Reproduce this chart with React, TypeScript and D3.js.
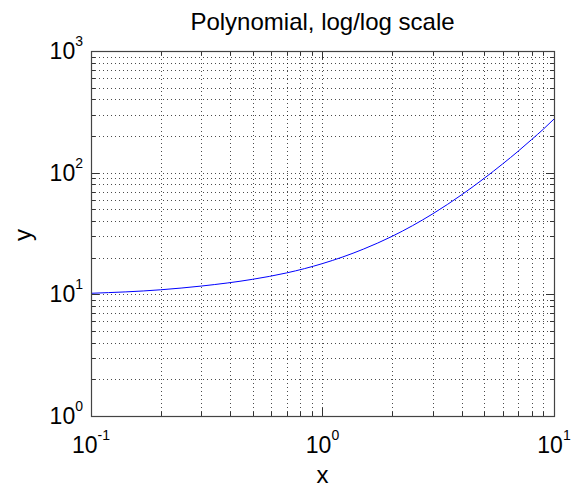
import React from "react";
import * as d3 from "d3";

const xValues = [0.1, 0.2, 0.3, 0.5, 0.7, 1, 1.5, 2, 3, 4, 5, 6, 7, 8, 9, 10];
const yValues = [10.2, 10.9, 11.7, 13.3, 15.0, 17.9, 23.5, 30, 46, 66, 90, 118, 150, 187, 228, 276];
const xTickExps = [-1, 0, 1];
const yTickExps = [0, 1, 2, 3];
const titleText = "Polynomial, log/log scale";
const xLabel = "x";
const yLabel = "y";

const W = 571, H = 488;
const L = 91, R = 554, T = 51, B = 416;
const FONT = "'Liberation Sans', Arial, Helvetica, sans-serif";

export default function App() {
  const x = d3.scaleLog().domain([0.1, 10]).range([L, R]);
  const y = d3.scaleLog().domain([1, 1000]).range([B, T]);

  const xGrid: number[] = [];
  for (let e = -1; e < 1; e++) for (let m = 1; m <= 9; m++) xGrid.push(m * Math.pow(10, e));
  xGrid.push(10);
  const yGrid: number[] = [];
  for (let e = 0; e < 3; e++) for (let m = 1; m <= 9; m++) yGrid.push(m * Math.pow(10, e));
  yGrid.push(1000);

  const line = d3.line<number>()
    .x((_, i) => x(xValues[i]))
    .y((d) => y(d))
    .curve(d3.curveMonotoneX);

  const px = (v: number) => Math.round(v) + 0.5;

  return (
    <svg width={W} height={H} style={{ position: "absolute", left: 0, top: 0, background: "#fff" }}>
      <rect x={0} y={0} width={W} height={H} fill="#fff" />
      {/* grid */}
      {xGrid.map((v, i) => (
        <line key={"xg" + i} x1={px(x(v))} x2={px(x(v))} y1={T} y2={B} stroke="#000" strokeWidth={1} strokeDasharray="1,3" opacity={0.7} />
      ))}
      {yGrid.map((v, i) => (
        <line key={"yg" + i} x1={L} x2={R} y1={px(y(v))} y2={px(y(v))} stroke="#000" strokeWidth={1} strokeDasharray="1,3" opacity={0.7} />
      ))}
      {/* ticks */}
      {xGrid.map((v, i) => {
        const major = Math.abs(Math.log10(v) - Math.round(Math.log10(v))) < 1e-9;
        const len = major ? 8 : 4;
        return (
          <g key={"xt" + i} stroke="#333">
            <line x1={px(x(v))} x2={px(x(v))} y1={B} y2={B - len} />
            <line x1={px(x(v))} x2={px(x(v))} y1={T} y2={T + len} />
          </g>
        );
      })}
      {yGrid.map((v, i) => {
        const major = Math.abs(Math.log10(v) - Math.round(Math.log10(v))) < 1e-9;
        const len = major ? 8 : 4;
        return (
          <g key={"yt" + i} stroke="#333">
            <line x1={L} x2={L + len} y1={px(y(v))} y2={px(y(v))} />
            <line x1={R} x2={R - len} y1={px(y(v))} y2={px(y(v))} />
          </g>
        );
      })}
      {/* curve */}
      <path d={line(yValues) || ""} fill="none" stroke="#0000ff" strokeWidth={1} />
      {/* box */}
      <rect x={L + 0.5} y={T + 0.5} width={R - L} height={B - T} fill="none" stroke="#444" strokeWidth={1.2} />
      {/* x tick labels */}
      {xTickExps.map((e) => (
        <text key={"xl" + e} x={x(Math.pow(10, e))} y={453} textAnchor="middle" fontFamily={FONT} fontSize={23} fill="#000">
          10<tspan fontSize={14} dy={-13}>{e}</tspan>
        </text>
      ))}
      {/* y tick labels */}
      {yTickExps.map((e) => (
        <text key={"yl" + e} x={83} y={y(Math.pow(10, e)) + 8} textAnchor="end" fontFamily={FONT} fontSize={23} fill="#000">
          10<tspan fontSize={14} dy={-13}>{e}</tspan>
        </text>
      ))}
      {/* title */}
      <text x={(L + R) / 2} y={30} textAnchor="middle" fontFamily={FONT} fontSize={24} fill="#000">{titleText}</text>
      <text x={(L + R) / 2} y={483} textAnchor="middle" fontFamily={FONT} fontSize={24} fill="#000">{xLabel}</text>
      <text transform={`translate(31, 235) rotate(-90)`} textAnchor="middle" fontFamily={FONT} fontSize={24} fill="#000">{yLabel}</text>
    </svg>
  );
}
